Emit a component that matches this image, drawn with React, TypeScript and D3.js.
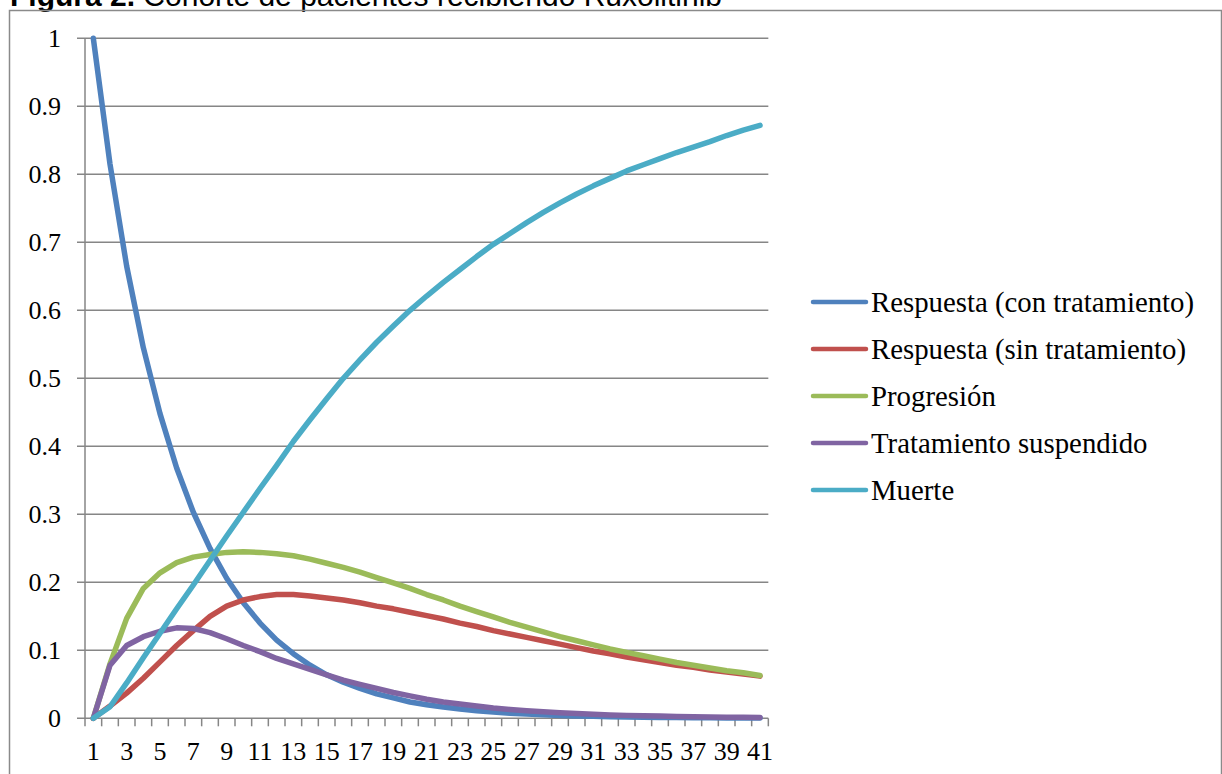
import React from "react";
import * as d3 from "d3";

const categories: number[] = Array.from({ length: 41 }, (_, i) => i + 1);

const respuestaCon: number[] = [
  1.0, 0.815, 0.665, 0.545, 0.448, 0.368, 0.303, 0.25, 0.206, 0.17, 0.14,
  0.115, 0.095, 0.078, 0.064, 0.053, 0.044, 0.036, 0.03, 0.024, 0.02, 0.0165,
  0.0136, 0.0112, 0.0092, 0.0076, 0.0062, 0.0051, 0.0042, 0.0035, 0.0029,
  0.0024, 0.0019, 0.0016, 0.0013, 0.0011, 0.0009, 0.0007, 0.0006, 0.0005,
  0.0004,
];

const respuestaSin: number[] = [
  0, 0.018, 0.037, 0.059, 0.083, 0.107, 0.129, 0.15, 0.165, 0.174, 0.179,
  0.182, 0.182, 0.18, 0.177, 0.174, 0.17, 0.165, 0.161, 0.156, 0.151, 0.146,
  0.14, 0.135, 0.129, 0.124, 0.119, 0.114, 0.109, 0.104, 0.099, 0.095, 0.09,
  0.086, 0.082, 0.078, 0.075, 0.071, 0.068, 0.065, 0.062,
];

const progresion: number[] = [
  0, 0.08, 0.147, 0.191, 0.214, 0.229, 0.237, 0.241, 0.244, 0.245, 0.244,
  0.242, 0.239, 0.234, 0.228, 0.222, 0.215, 0.207, 0.199, 0.191, 0.182, 0.174,
  0.165, 0.157, 0.149, 0.141, 0.134, 0.127, 0.12, 0.114, 0.108, 0.102, 0.097,
  0.092, 0.087, 0.082, 0.078, 0.074, 0.07, 0.067, 0.063,
];

const suspendido: number[] = [
  0, 0.078, 0.107, 0.12, 0.128, 0.133, 0.132, 0.126, 0.117, 0.107, 0.098,
  0.088, 0.08, 0.072, 0.064, 0.056, 0.05, 0.044, 0.038, 0.033, 0.028, 0.024,
  0.021, 0.018, 0.015, 0.013, 0.011, 0.0095, 0.008, 0.007, 0.006, 0.005,
  0.0043, 0.0037, 0.0032, 0.0027, 0.0023, 0.002, 0.0017, 0.0015, 0.0013,
];

const muerte: number[] = [
  0, 0.017, 0.052, 0.089, 0.125, 0.161, 0.196, 0.232, 0.268, 0.303, 0.338,
  0.372, 0.407, 0.439, 0.47, 0.5, 0.527, 0.553, 0.577, 0.6, 0.621, 0.641,
  0.66, 0.679, 0.697, 0.713, 0.729, 0.744, 0.758, 0.771, 0.783, 0.794, 0.805,
  0.814, 0.823, 0.832, 0.84, 0.848, 0.857, 0.865, 0.872,
];

const seriesNames: string[] = [
  "Respuesta (con tratamiento)",
  "Respuesta (sin tratamiento)",
  "Progresión",
  "Tratamiento suspendido",
  "Muerte",
];
const seriesValues: number[][] = [respuestaCon, respuestaSin, progresion, suspendido, muerte];
const seriesColors: string[] = ["#4F81BD", "#C0504D", "#9BBB59", "#8064A2", "#4BACC6"];

const yTicks: number[] = [0, 0.1, 0.2, 0.3, 0.4, 0.5, 0.6, 0.7, 0.8, 0.9, 1];
const xTickLabels: number[] = categories.filter((c) => c % 2 === 1);

export default function App() {
  const W = 1222;
  const H = 774;
  const left = 85;
  const right = 768.33;
  const top = 38.3;
  const bottom = 718.3;

  const x = d3
    .scaleBand<number>()
    .domain(categories)
    .range([left, right])
    .paddingInner(0)
    .paddingOuter(0);
  const bw = x.bandwidth();
  const cx = (c: number) => (x(c) as number) + bw / 2;
  const y = d3.scaleLinear().domain([0, 1]).range([bottom, top]);

  const line = d3
    .line<number>()
    .x((_, i) => cx(categories[i]))
    .y((d) => y(d))
    .curve(d3.curveLinear);

  const grid = "#868686";
  const serif = "'Liberation Serif', 'Times New Roman', serif";

  const boundaries = [...categories.map((c) => x(c) as number), right];

  return (
    <svg
      width={W}
      height={H}
      style={{ position: "absolute", left: 0, top: 0, display: "block", background: "#fff" }}
    >
      <rect x={0} y={0} width={W} height={H} fill="#fff" />
      {/* title (partially clipped at top, as in the reference) */}
      <text x={10} y={6} fontFamily="'Liberation Sans', Arial, sans-serif" fontSize={30} fill="#000">
        <tspan fontWeight="bold">Figura 2.</tspan>
        <tspan> Cohorte de pacientes recibiendo Ruxolitinib</tspan>
      </text>
      {/* outer border */}
      <path
        d={`M9.5,${H + 5} L9.5,10.5 L1221.5,10.5 L1221.5,${H + 5}`}
        fill="none"
        stroke="#8a8a8a"
        strokeWidth={1.5}
      />
      {/* gridlines + y labels */}
      {yTicks.map((t) => (
        <g key={t}>
          <line x1={77} x2={right} y1={y(t)} y2={y(t)} stroke={grid} strokeWidth={1.5} />
          <text
            x={61}
            y={y(t)}
            dy="0.34em"
            textAnchor="end"
            fontFamily={serif}
            fontSize={26}
            fill="#000"
          >
            {String(t)}
          </text>
        </g>
      ))}
      {/* y axis line */}
      <line x1={left} x2={left} y1={top} y2={bottom} stroke={grid} strokeWidth={1.5} />
      {/* x ticks */}
      {boundaries.map((b, i) => (
        <line key={i} x1={b} x2={b} y1={bottom} y2={bottom + 8} stroke={grid} strokeWidth={1.5} />
      ))}
      {/* x labels */}
      {xTickLabels.map((c) => (
        <text
          key={c}
          x={cx(c)}
          y={760}
          textAnchor="middle"
          fontFamily={serif}
          fontSize={26}
          fill="#000"
        >
          {String(c)}
        </text>
      ))}
      {/* series */}
      {seriesValues.map((vals, i) => (
        <path
          key={i}
          d={line(vals) || ""}
          fill="none"
          stroke={seriesColors[i]}
          strokeWidth={5.5}
          strokeLinecap="round"
          strokeLinejoin="round"
        />
      ))}
      {/* legend */}
      {seriesNames.map((n, i) => {
        const ly = 302 + i * 47;
        return (
          <g key={n}>
            <line
              x1={813}
              x2={866}
              y1={ly}
              y2={ly}
              stroke={seriesColors[i]}
              strokeWidth={4.5}
              strokeLinecap="round"
            />
            <text x={871} y={ly} dy="0.34em" fontFamily={serif} fontSize={28.8} fill="#000">
              {n}
            </text>
          </g>
        );
      })}
    </svg>
  );
}
